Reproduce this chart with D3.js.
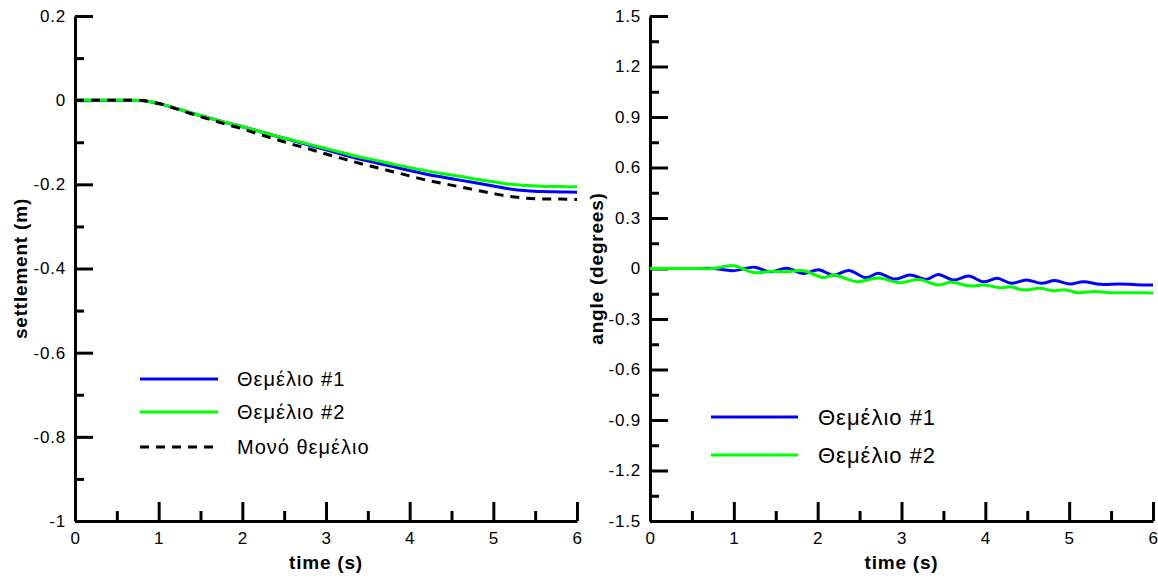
<!DOCTYPE html>
<html lang="en">
<head>
  <meta charset="UTF-8">
  <title>Settlement and rotation</title>
  <style>
    body { margin: 0; background: #fff; }
    svg { font-family: "Liberation Sans", Arial, sans-serif; }
    .axis path, .axis line { stroke: #000; stroke-width: 3px; }
    .axis text { font-size: 17px; fill: #000; letter-spacing: 0.8px; }
    .title { font-size: 19px; font-weight: bold; letter-spacing: 0.8px; }
    .legend text { fill: #000; letter-spacing: 1px; }
  </style>
</head>
<body>
  <svg id="chart" width="1158" height="578"></svg>

  <script src="https://d3js.org/d3.v7.min.js"></script>
  <script>
    // left panel: settlement (m) vs time (s)
    const settleTime = [0, 0.2, 0.4, 0.6, 0.8, 1.0, 1.2, 1.4, 1.6, 1.8, 2.0, 2.2, 2.4, 2.6, 2.8, 3.0,
                        3.2, 3.4, 3.6, 3.8, 4.0, 4.2, 4.4, 4.6, 4.8, 5.0, 5.2, 5.4, 5.6, 5.8, 6.0];
    const settleF1 = [0, 0, 0, 0, -0.001, -0.008, -0.019, -0.031, -0.042, -0.053, -0.063, -0.074, -0.085, -0.096, -0.107, -0.118,
                      -0.129, -0.140, -0.149, -0.158, -0.167, -0.176, -0.183, -0.190, -0.197, -0.204, -0.211, -0.215, -0.217, -0.218, -0.219];
    const settleF2 = [0, 0, 0, 0, -0.001, -0.008, -0.019, -0.031, -0.042, -0.053, -0.063, -0.074, -0.085, -0.095, -0.105, -0.115,
                      -0.125, -0.135, -0.143, -0.152, -0.160, -0.168, -0.175, -0.181, -0.188, -0.194, -0.200, -0.203, -0.205, -0.205, -0.206];
    const settleSingle = [0, 0, 0, 0, -0.001, -0.008, -0.020, -0.033, -0.045, -0.057, -0.068, -0.081, -0.093, -0.105, -0.116, -0.128,
                          -0.139, -0.150, -0.160, -0.170, -0.180, -0.190, -0.198, -0.206, -0.214, -0.222, -0.229, -0.233, -0.235, -0.235, -0.236];

    // right panel: angle (degrees) vs time (s)
    const angleTimeF1 = [0, 0.5, 0.75, 0.99, 1.25, 1.43, 1.63, 1.83, 2.01, 2.19, 2.37, 2.58, 2.72, 2.92, 3.1, 3.3,
                         3.44, 3.62, 3.8, 3.98, 4.14, 4.31, 4.49, 4.67, 4.83, 5.01, 5.17, 5.37, 5.6, 5.8, 6.0];
    const angleF1 = [0, 0, 0, -0.013, 0.008, -0.02, 0.001, -0.03, -0.008, -0.04, -0.012, -0.055, -0.028, -0.063, -0.038, -0.064,
                     -0.035, -0.069, -0.045, -0.079, -0.058, -0.088, -0.068, -0.088, -0.072, -0.092, -0.078, -0.094, -0.092, -0.096, -0.098];
    const angleTimeF2 = [0, 0.5, 0.75, 0.99, 1.25, 1.45, 1.6, 1.83, 2.07, 2.19, 2.47, 2.72, 2.98, 3.2, 3.44, 3.59,
                         3.82, 3.98, 4.18, 4.3, 4.45, 4.65, 4.81, 4.95, 5.1, 5.3, 5.5, 5.8, 6.0];
    const angleF2 = [0, 0, 0, 0.017, -0.025, -0.016, -0.02, -0.013, -0.054, -0.039, -0.078, -0.056, -0.084, -0.066, -0.098, -0.082,
                     -0.104, -0.098, -0.114, -0.108, -0.128, -0.118, -0.132, -0.126, -0.144, -0.136, -0.144, -0.144, -0.145];

    const xMajor = [0, 1, 2, 3, 4, 5, 6];
    const xMinor = [0.5, 1.5, 2.5, 3.5, 4.5, 5.5];
    const settleMajor = [0.2, 0, -0.2, -0.4, -0.6, -0.8, -1];
    const settleMinor = [0.1, -0.1, -0.3, -0.5, -0.7, -0.9];
    const angleMajor = [1.5, 1.2, 0.9, 0.6, 0.3, 0, -0.3, -0.6, -0.9, -1.2, -1.5];
    const angleMinor = [1.35, 1.05, 0.75, 0.45, 0.15, -0.15, -0.45, -0.75, -1.05, -1.35];

    const legendLeft = ["Θεμέλιο #1", "Θεμέλιο #2", "Μονό θεμέλιο"];
    const legendRight = ["Θεμέλιο #1", "Θεμέλιο #2"];

    const blue = "#0000ff", green = "#00ff00", black = "#000000";
    const plotTop = 16, plotBottom = 521;
    const svg = d3.select("#chart");

    function panel(left, right, yDomain, yMajor, yMinor, yTitle, titleX) {
      const g = svg.append("g");
      const x = d3.scaleLinear().domain([0, 6]).range([left, right]);
      const y = d3.scaleLinear().domain(yDomain).range([plotBottom, plotTop]);

      // minor ticks first, then major axis with labels
      g.append("g").attr("class", "axis").attr("transform", `translate(0,${plotBottom})`)
        .call(d3.axisBottom(x).tickValues(xMinor).tickSize(-10).tickFormat(""))
        .call(a => a.select(".domain").remove());
      g.append("g").attr("class", "axis").attr("transform", `translate(${left},0)`)
        .call(d3.axisLeft(y).tickValues(yMinor).tickSize(-9).tickFormat(""))
        .call(a => a.select(".domain").remove());

      g.append("g").attr("class", "axis").attr("transform", `translate(0,${plotBottom})`)
        .call(d3.axisBottom(x).tickValues(xMajor).tickSize(-19).tickSizeOuter(0).tickPadding(11).tickFormat(d => String(d)));
      g.append("g").attr("class", "axis").attr("transform", `translate(${left},0)`)
        .call(d3.axisLeft(y).tickValues(yMajor).tickSize(-18).tickSizeOuter(0).tickPadding(9).tickFormat(d => String(d)));

      g.append("text").attr("class", "title")
        .attr("x", (left + right) / 2).attr("y", 569)
        .attr("text-anchor", "middle").text("time (s)");
      g.append("text").attr("class", "title")
        .attr("transform", `translate(${titleX},${(plotTop + plotBottom) / 2}) rotate(-90)`)
        .attr("text-anchor", "middle").text(yTitle);

      return { g, x, y };
    }

    function drawLine(p, xs, ys, color, dash) {
      const line = d3.line()
        .x(i => p.x(xs[i]))
        .y(i => p.y(ys[i]))
        .curve(d3.curveCatmullRom.alpha(0.5));
      p.g.append("path")
        .attr("d", line(d3.range(xs.length)))
        .attr("fill", "none")
        .attr("stroke", color)
        .attr("stroke-width", 3)
        .attr("stroke-dasharray", dash || null);
    }

    function legend(p, x0, x1, tx, ys, labels, colors, dashes, size) {
      const lg = p.g.append("g").attr("class", "legend");
      labels.forEach((lab, i) => {
        lg.append("line")
          .attr("x1", x0).attr("x2", x1).attr("y1", ys[i]).attr("y2", ys[i])
          .attr("stroke", colors[i]).attr("stroke-width", 3)
          .attr("stroke-dasharray", dashes[i] || null);
        lg.append("text")
          .attr("x", tx).attr("y", ys[i]).attr("dy", "0.35em")
          .style("font-size", size + "px").text(lab);
      });
    }

    const pl = panel(75, 577, [-1, 0.2], settleMajor, settleMinor, "settlement (m)", 27);
    drawLine(pl, settleTime, settleF1, blue);
    drawLine(pl, settleTime, settleF2, green);
    drawLine(pl, settleTime, settleSingle, black, "9,7");
    legend(pl, 140, 218, 237, [379, 412, 447], legendLeft, [blue, green, black], [null, null, "9,7"], 20);

    const pr = panel(650, 1153, [-1.5, 1.5], angleMajor, angleMinor, "angle (degrees)", 603);
    drawLine(pr, angleTimeF1, angleF1, blue);
    drawLine(pr, angleTimeF2, angleF2, green);
    legend(pr, 711, 798, 818, [417, 455], legendRight, [blue, green], [null, null], 22);
  </script>
</body>
</html>
